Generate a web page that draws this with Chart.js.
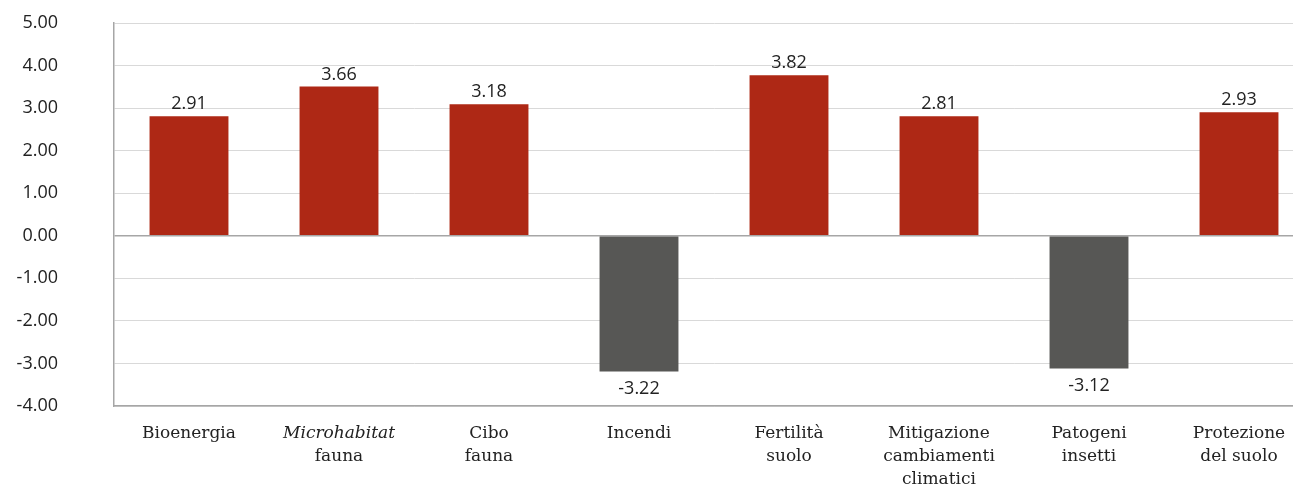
<!DOCTYPE html>
<html lang="it">

<head>
    <meta charset="UTF-8">
    <title>Servizi ecosistemici</title>
    <script src="https://cdn.jsdelivr.net/npm/chart.js@4.4.0/dist/chart.umd.min.js"></script>
    <style>
        body { margin: 0; background: #fff; overflow: hidden; }
        #wrap { width: 1330px; height: 486px; }
    </style>
</head>

<body>
    <div id="wrap">
        <canvas id="chart" width="1330" height="486"></canvas>
    </div>
    <script>
        // categorie (una riga per elemento)
        const categories = [
            ['Bioenergia'],
            ['Microhabitat', 'fauna'],
            ['Cibo', 'fauna'],
            ['Incendi'],
            ['Fertilità', 'suolo'],
            ['Mitigazione', 'cambiamenti', 'climatici'],
            ['Patogeni', 'insetti'],
            ['Protezione', 'del suolo']
        ];
        const italicWords = ['Microhabitat'];
        // altezza delle barre
        const values = [2.81, 3.51, 3.09, -3.19, 3.77, 2.81, -3.12, 2.90];
        // etichette stampate sopra/sotto le barre
        const printed = ['2.91', '3.66', '3.18', '-3.22', '3.82', '2.81', '-3.12', '2.93'];
        const yMin = -4;
        const yMax = 5;
        const yStep = 1;

        const red = '#ae2815';
        const grey = '#575755';
        const textCol = '#222222';
        const numFont = '18px "Open Sans"';
        const catFont = '17px "DejaVu Serif"';

        // etichette valori
        const valueLabels = {
            id: 'valueLabels',
            afterDatasetsDraw(chart) {
                const ctx = chart.ctx;
                const meta = chart.getDatasetMeta(0);
                ctx.save();
                ctx.font = numFont;
                ctx.fillStyle = textCol;
                ctx.textAlign = 'center';
                meta.data.forEach((bar, i) => {
                    const { x, y } = bar.getProps(['x', 'y'], true);
                    if (values[i] >= 0) {
                        ctx.textBaseline = 'bottom';
                        ctx.fillText(printed[i], x, y - 3);
                    } else {
                        ctx.textBaseline = 'top';
                        ctx.fillText(printed[i], x, y + 8);
                    }
                });
                ctx.restore();
            }
        };

        // etichette categorie (con corsivo)
        const catLabels = {
            id: 'catLabels',
            afterDraw(chart) {
                const ctx = chart.ctx;
                const xs = chart.scales.x;
                ctx.save();
                ctx.fillStyle = textCol;
                ctx.textAlign = 'center';
                ctx.textBaseline = 'middle';
                categories.forEach((lines, i) => {
                    const x = xs.getPixelForTick(i);
                    lines.forEach((line, j) => {
                        ctx.font = italicWords.includes(line) ? 'italic ' + catFont : catFont;
                        ctx.fillText(line, x, chart.chartArea.bottom + 28 + j * 22.7);
                    });
                });
                ctx.restore();
            }
        };

        new Chart(document.getElementById('chart'), {
            type: 'bar',
            data: {
                labels: categories.map(c => c.join(' ')),
                datasets: [{
                    data: values,
                    backgroundColor: values.map(v => v >= 0 ? red : grey),
                    categoryPercentage: 1,
                    barPercentage: 0.526
                }]
            },
            options: {
                responsive: false,
                animation: false,
                layout: { padding: { left: 0, top: 23, right: 16, bottom: 0 } },
                plugins: {
                    legend: { display: false },
                    tooltip: { enabled: false }
                },
                scales: {
                    x: {
                        grid: { display: false },
                        border: { display: true, color: '#a6a6a6', width: 1.5 },
                        ticks: { display: false },
                        afterFit: s => { s.height = 80; }
                    },
                    y: {
                        min: yMin,
                        max: yMax,
                        grid: {
                            drawTicks: true,
                            tickLength: 56,
                            tickColor: 'rgba(0,0,0,0)',
                            color: c => c.tick && c.tick.value === 0 ? '#a6a6a6' : '#d9d9d9',
                            lineWidth: c => c.tick && c.tick.value === 0 ? 1.5 : 1
                        },
                        border: { display: true, color: '#a6a6a6', width: 1.5 },
                        ticks: {
                            stepSize: yStep,
                            padding: 0,
                            color: textCol,
                            font: { family: 'Open Sans', size: 18 },
                            callback: v => v.toFixed(2)
                        },
                        afterFit: s => { s.width = 114; }
                    }
                }
            },
            plugins: [valueLabels, catLabels]
        });
    </script>
</body>

</html>
